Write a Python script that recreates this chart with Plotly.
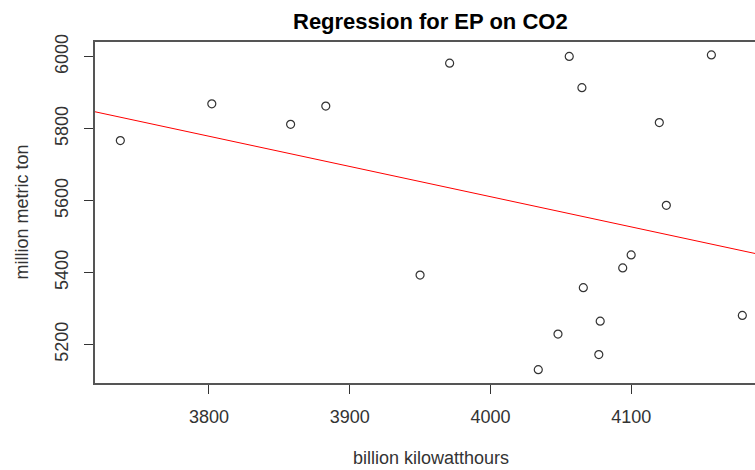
import plotly.graph_objects as go

# Data (x: billion kWh, y: million metric ton)
ep_kwh = [3737, 3802, 3858, 3883, 3950, 3971, 4034, 4048, 4056, 4065,
          4066, 4077, 4078, 4094, 4100, 4120, 4125, 4157, 4179]
co2_mt = [5767, 5869, 5812, 5863, 5393, 5982, 5130, 5229, 6001, 5914,
          5358, 5172, 5265, 5413, 5449, 5817, 5587, 6005, 5281]

# Regression line (as drawn in the reference)
reg_intercept = 8971.0
reg_slope = -0.840
reg_x = [3650, 4250]
reg_y = [reg_intercept + reg_slope * v for v in reg_x]

x_ticks = [3800, 3900, 4000, 4100]
y_ticks = [5200, 5400, 5600, 5800, 6000]

FONT = "Liberation Sans, Arial, sans-serif"
TXT = "#333333"

fig = go.Figure()
fig.add_trace(go.Scatter(
    x=reg_x, y=reg_y, mode="lines",
    line=dict(color="#ff0000", width=1), hoverinfo="skip", showlegend=False))
fig.add_trace(go.Scatter(
    x=ep_kwh, y=co2_mt, mode="markers",
    marker=dict(symbol="circle-open", size=8, color="#333333",
                line=dict(width=1.2, color="#333333")),
    showlegend=False))

fig.update_layout(
    width=755, height=470,
    margin=dict(l=95, r=0, t=42, b=87),
    paper_bgcolor="white", plot_bgcolor="white",
    font=dict(family=FONT, size=18, color=TXT),
    xaxis=dict(range=[3719, 4188], tickvals=x_ticks, showgrid=False,
               zeroline=False, showline=True, mirror=True,
               linecolor="#555555", linewidth=1.5,
               ticks="outside", ticklen=9, tickcolor="#333333",
               ticklabelstandoff=8,
               tickfont=dict(size=18, color=TXT)),
    yaxis=dict(range=[5093, 6041], tickvals=y_ticks, showgrid=False,
               zeroline=False, showline=True, mirror=False,
               linecolor="#555555", linewidth=1.5,
               ticks="outside", ticklen=9, tickcolor="#333333",
               tickangle=-90, ticklabelstandoff=9,
               tickfont=dict(size=18, color=TXT)),
    annotations=[
        dict(text="<b>Regression for EP on CO2</b>", xref="paper", yref="paper",
             x=(431 - 95) / 660, y=1 + (42 - 21) / 341, xanchor="center",
             yanchor="middle", showarrow=False,
             font=dict(size=22, color="black", family=FONT)),
        dict(text="billion kilowatthours", xref="paper", yref="paper",
             x=(431 - 95) / 660, y=(383 - 470) / 341, xanchor="center",
             yanchor="bottom", showarrow=False,
             font=dict(size=18, color=TXT, family=FONT)),
        dict(text="million metric ton", xref="paper", yref="paper",
             x=(21 - 95) / 660, y=(383 - 212.5) / 341, xanchor="center",
             yanchor="middle", textangle=-90, showarrow=False,
             font=dict(size=18, color=TXT, family=FONT)),
    ],
)

fig.write_html("out.html", config={"displayModeBar": False},
               post_script="document.body.style.margin='0';")
